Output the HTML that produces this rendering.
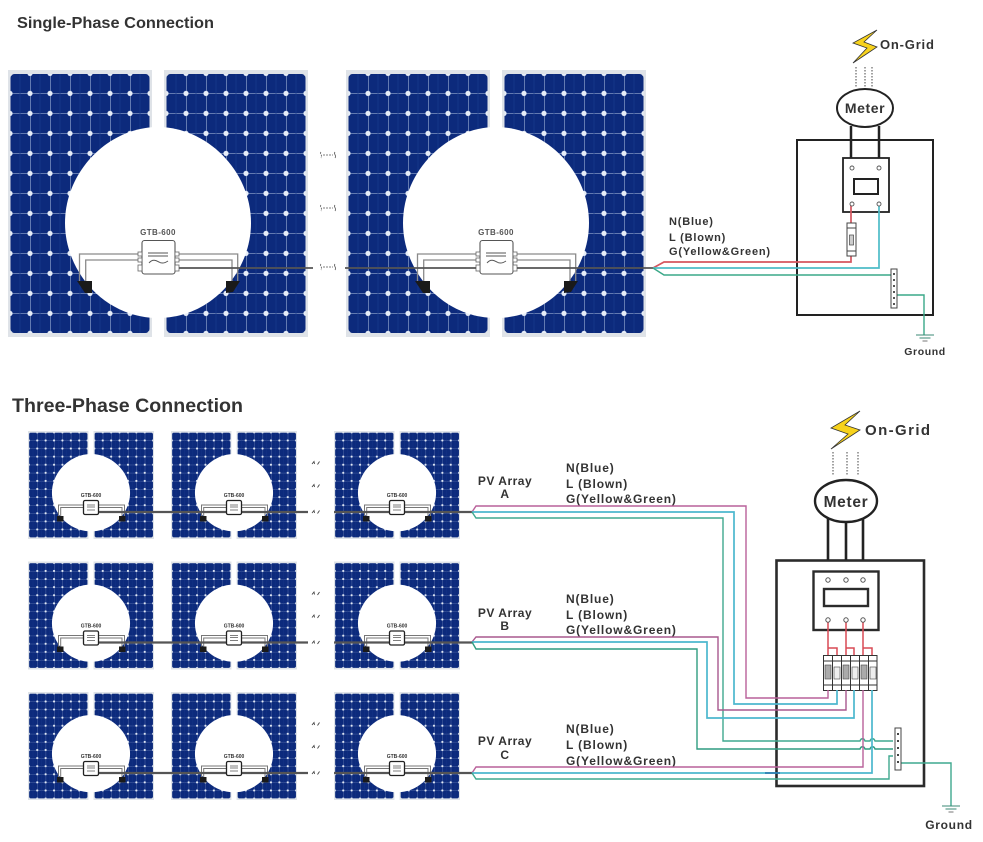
<!DOCTYPE html>
<html><head><meta charset="utf-8"><style>
html,body{margin:0;padding:0;background:#fff}
svg{display:block;filter:blur(.35px)}
text{font-family:"Liberation Sans",sans-serif;font-weight:bold;fill:#333}
</style></head><body>
<svg width="983" height="842" viewBox="0 0 983 842" xmlns="http://www.w3.org/2000/svg">
<defs>
<pattern id="cl" patternUnits="userSpaceOnUse" x="10" y="73.4" width="20" height="20">
<rect width="20" height="20" fill="#0c2a7c"/>
<path d="M0 0H20M0 0V20" stroke="#b9c9e6" stroke-width="1"/>
<path d="M10 0V20" stroke="#17398c" stroke-width=".7"/>
<circle cx="0" cy="0" r="2.6" fill="#e6edf8"/><circle cx="20" cy="0" r="2.6" fill="#e6edf8"/>
<circle cx="0" cy="20" r="2.6" fill="#e6edf8"/><circle cx="20" cy="20" r="2.6" fill="#e6edf8"/>
</pattern>
<pattern id="cr" patternUnits="userSpaceOnUse" x="6" y="73.4" width="20" height="20">
<rect width="20" height="20" fill="#0c2a7c"/>
<path d="M0 0H20M0 0V20" stroke="#b9c9e6" stroke-width="1"/>
<path d="M10 0V20" stroke="#17398c" stroke-width=".7"/>
<circle cx="0" cy="0" r="2.6" fill="#e6edf8"/><circle cx="20" cy="0" r="2.6" fill="#e6edf8"/>
<circle cx="0" cy="20" r="2.6" fill="#e6edf8"/><circle cx="20" cy="20" r="2.6" fill="#e6edf8"/>
</pattern>
<g id="pv">
<rect x="8" y="70" width="144" height="267" fill="#dfe3e8"/>
<rect x="164" y="70" width="144" height="267" fill="#dfe3e8"/>
<rect x="10.5" y="74" width="139" height="259" rx="4" fill="url(#cl)"/>
<rect x="166.5" y="74" width="139" height="259" rx="4" fill="url(#cr)"/>
<rect x="152" y="68" width="12" height="271" fill="#fff"/>
<path d="M158 127C110 127 65 170 65 223C65 272 105 318 158 318C211 318 251 272 251 223C251 170 206 127 158 127Z" fill="#fff"/>
</g>
<g id="inv">
<path d="M140 254H79.500V281M140 260H85.700V281M176 254H237.700V281M176 260H232V281" fill="none" stroke="#8a8a8a" stroke-width="1.300"/>
<path d="M77 281H92V293H85Z" fill="#1a1a1a"/>
<path d="M226 281H240L233 292L226 293Z" fill="#1a1a1a"/>
<rect x="142" y="240.500" width="33" height="33.500" rx="2.500" fill="#fff" stroke="#555" stroke-width="1.100"/>
<rect x="138" y="252" width="4" height="4" fill="#fff" stroke="#666" stroke-width=".8"/>
<rect x="138" y="258" width="4" height="4" fill="#fff" stroke="#666" stroke-width=".8"/>
<rect x="138" y="265" width="4" height="6" fill="#fff" stroke="#666" stroke-width=".8"/>
<rect x="175" y="252" width="4" height="4" fill="#fff" stroke="#666" stroke-width=".8"/>
<rect x="175" y="258" width="4" height="4" fill="#fff" stroke="#666" stroke-width=".8"/>
<rect x="175" y="265" width="4" height="6" fill="#fff" stroke="#666" stroke-width=".8"/>
<path d="M148 253H168M148 256H168" stroke="#555" stroke-width="1"/>
<path d="M149 263C153 258 157 261 159 262C162 264 165 263 168 261" fill="none" stroke="#555" stroke-width="1"/>
</g>
<g id="invs">
<path d="M56 74H30.500V85M56 76.500H32.700V85M70 74H96.500V85M70 76.500H94V85" fill="none" stroke="#777" stroke-width="1"/>
<rect x="29" y="85" width="6.500" height="5.500" fill="#1a1a1a"/>
<rect x="91" y="85" width="6.500" height="5.500" fill="#1a1a1a"/>
</g>
<g id="brk" fill="none" stroke="#555" stroke-width=".8">
<path d="M321 -3C319 -1 323 0 321 3M323 0H333" stroke-dasharray="2 1"/>
<path d="M335 -3C333 -1 337 0 335 3"/>
</g>
<g id="brs" fill="none" stroke="#444" stroke-width=".9">
<path d="M312 1L314 -1.500L314.500 1M317.500 1.500L319.500 -1.500"/>
</g>
<g id="gnd" stroke-width="1">
<path d="M-9 0H9" stroke="#3b8a76"/><path d="M-5.500 3H5.500" stroke="#3b8a76"/><path d="M-2.500 6H2.500" stroke="#777"/>
</g>
</defs>

<rect width="983" height="842" fill="#fff"/>
<text x="17" y="28" font-size="16" textLength="197" lengthAdjust="spacingAndGlyphs">Single-Phase Connection</text>
<text x="12" y="412" font-size="19.500" textLength="231" lengthAdjust="spacingAndGlyphs">Three-Phase Connection</text>

<!-- single-phase arrays -->
<use href="#pv"/>
<use href="#pv" x="338"/>
<use href="#inv"/><use href="#inv" x="338"/>
<path d="M179 268H313M345 268H476M517 268H653" stroke="#555" stroke-width="1.800" fill="none"/>
<text x="158" y="235" font-size="8" text-anchor="middle" style="fill:#555;letter-spacing:.4px">GTB-600</text>
<text x="496" y="235" font-size="8" text-anchor="middle" style="fill:#555;letter-spacing:.4px">GTB-600</text>
<use href="#brk" y="155"/><use href="#brk" y="208"/><use href="#brk" y="267"/>

<!-- single-phase panel -->
<rect x="797" y="140" width="136" height="175" fill="none" stroke="#222" stroke-width="2"/>
<path d="M851 126V158M879 126V158" stroke="#222" stroke-width="2.500"/>
<ellipse cx="865" cy="108" rx="28" ry="19" fill="#fff" stroke="#222" stroke-width="2"/>
<text x="865" y="113" font-size="14" text-anchor="middle" style="letter-spacing:.6px">Meter</text>
<path d="M856 67V87M865 67V87M872 67V87" stroke="#444" stroke-width="1" stroke-dasharray="1.500 1.500"/>
<path d="M877 30L853 43L867 48L853 63L877 47L864 42Z" fill="#f7d21c" stroke="#333" stroke-width=".8"/>
<text x="880" y="49" font-size="13" style="letter-spacing:.8px">On-Grid</text>
<rect x="843" y="158" width="46" height="54" fill="#fff" stroke="#222" stroke-width="1.800"/>
<rect x="854" y="179" width="24" height="15" fill="#fff" stroke="#222" stroke-width="2"/>
<path d="M653 268L664 262H851V256M851 223V204" fill="none" stroke="#d5565f" stroke-width="1.700"/>
<path d="M653 268H879V204" fill="none" stroke="#4dbcc8" stroke-width="1.700"/>
<path d="M653 268L664 275H891" fill="none" stroke="#3aa888" stroke-width="1.400"/>
<path d="M897 295H924V335" fill="none" stroke="#3aa888" stroke-width="1.400"/>
<g fill="#fff" stroke="#555" stroke-width=".9">
<circle cx="852" cy="168" r="2"/><circle cx="879" cy="168" r="2"/><circle cx="852" cy="204" r="2"/><circle cx="879" cy="204" r="2"/>
</g>
<rect x="847" y="223" width="9" height="33" fill="#fff" stroke="#444"/>
<rect x="849.500" y="235" width="4" height="10" fill="#ccc" stroke="#444" stroke-width=".7"/>
<path d="M847 228H856M847 251H856" stroke="#444" stroke-width="1"/>
<rect x="891" y="269" width="6" height="39" fill="#fff" stroke="#444"/>
<path d="M894 273V305" stroke="#555" stroke-width="2" stroke-dasharray="2 4"/>
<use href="#gnd" x="925" y="335"/>
<text x="925" y="355" font-size="10.500" text-anchor="middle" style="letter-spacing:.6px">Ground</text>
<text x="669" y="225" font-size="11" style="letter-spacing:.8px">N(Blue)</text>
<text x="669" y="241" font-size="11" style="letter-spacing:.8px">L (Blown)</text>
<text x="669" y="255" font-size="11" style="letter-spacing:.8px">G(Yellow&amp;Green)</text>

<!-- three-phase arrays -->
<g>
<g transform="translate(28 431) scale(.42 .4045) translate(-8 -70)"><use href="#pv"/></g>
<g transform="translate(171 431) scale(.42 .4045) translate(-8 -70)"><use href="#pv"/></g>
<g transform="translate(334 431) scale(.42 .4045) translate(-8 -70)"><use href="#pv"/></g>
<use href="#invs" x="28" y="431"/><use href="#invs" x="171" y="431"/><use href="#invs" x="334" y="431"/>
<path d="M98 512H308M334 512H472" stroke="#555" stroke-width="2.200" fill="none"/>
<rect x="83.500" y="500.500" width="15" height="14" rx="1.500" fill="#fff" stroke="#222" stroke-width="1.300"/>
<rect x="226.500" y="500.500" width="15" height="14" rx="1.500" fill="#fff" stroke="#222" stroke-width="1.300"/>
<rect x="389.500" y="500.500" width="15" height="14" rx="1.500" fill="#fff" stroke="#222" stroke-width="1.300"/>
<path d="M87 505H95M87 507H95M87 510H95M230 505H238M230 507H238M230 510H238M393 505H401M393 507H401M393 510H401" stroke="#555" stroke-width=".8"/>
<use href="#brs" y="463"/><use href="#brs" y="486"/><use href="#brs" y="512"/>
<text x="91" y="497" font-size="5" text-anchor="middle">GTB-600</text><text x="234" y="497" font-size="5" text-anchor="middle">GTB-600</text><text x="397" y="497" font-size="5" text-anchor="middle">GTB-600</text>
</g>
<g transform="translate(0 130.500)">
<g transform="translate(28 431) scale(.42 .4045) translate(-8 -70)"><use href="#pv"/></g>
<g transform="translate(171 431) scale(.42 .4045) translate(-8 -70)"><use href="#pv"/></g>
<g transform="translate(334 431) scale(.42 .4045) translate(-8 -70)"><use href="#pv"/></g>
<use href="#invs" x="28" y="431"/><use href="#invs" x="171" y="431"/><use href="#invs" x="334" y="431"/>
<path d="M98 512H308M334 512H472" stroke="#555" stroke-width="2.200" fill="none"/>
<rect x="83.500" y="500.500" width="15" height="14" rx="1.500" fill="#fff" stroke="#222" stroke-width="1.300"/>
<rect x="226.500" y="500.500" width="15" height="14" rx="1.500" fill="#fff" stroke="#222" stroke-width="1.300"/>
<rect x="389.500" y="500.500" width="15" height="14" rx="1.500" fill="#fff" stroke="#222" stroke-width="1.300"/>
<path d="M87 505H95M87 507H95M87 510H95M230 505H238M230 507H238M230 510H238M393 505H401M393 507H401M393 510H401" stroke="#555" stroke-width=".8"/>
<use href="#brs" y="463"/><use href="#brs" y="486"/><use href="#brs" y="512"/>
<text x="91" y="497" font-size="5" text-anchor="middle">GTB-600</text><text x="234" y="497" font-size="5" text-anchor="middle">GTB-600</text><text x="397" y="497" font-size="5" text-anchor="middle">GTB-600</text>
</g>
<g transform="translate(0 261)">
<g transform="translate(28 431) scale(.42 .4045) translate(-8 -70)"><use href="#pv"/></g>
<g transform="translate(171 431) scale(.42 .4045) translate(-8 -70)"><use href="#pv"/></g>
<g transform="translate(334 431) scale(.42 .4045) translate(-8 -70)"><use href="#pv"/></g>
<use href="#invs" x="28" y="431"/><use href="#invs" x="171" y="431"/><use href="#invs" x="334" y="431"/>
<path d="M98 512H308M334 512H472" stroke="#555" stroke-width="2.200" fill="none"/>
<rect x="83.500" y="500.500" width="15" height="14" rx="1.500" fill="#fff" stroke="#222" stroke-width="1.300"/>
<rect x="226.500" y="500.500" width="15" height="14" rx="1.500" fill="#fff" stroke="#222" stroke-width="1.300"/>
<rect x="389.500" y="500.500" width="15" height="14" rx="1.500" fill="#fff" stroke="#222" stroke-width="1.300"/>
<path d="M87 505H95M87 507H95M87 510H95M230 505H238M230 507H238M230 510H238M393 505H401M393 507H401M393 510H401" stroke="#555" stroke-width=".8"/>
<use href="#brs" y="463"/><use href="#brs" y="486"/><use href="#brs" y="512"/>
<text x="91" y="497" font-size="5" text-anchor="middle">GTB-600</text><text x="234" y="497" font-size="5" text-anchor="middle">GTB-600</text><text x="397" y="497" font-size="5" text-anchor="middle">GTB-600</text>
</g>

<!-- three-phase labels -->
<g font-size="12" text-anchor="middle" style="letter-spacing:.5px">
<text x="505" y="485">PV Array</text><text x="505" y="498">A</text>
<text x="505" y="617">PV Array</text><text x="505" y="630">B</text>
<text x="505" y="745">PV Array</text><text x="505" y="759">C</text>
</g>
<g font-size="12" style="letter-spacing:.85px">
<text x="566" y="472">N(Blue)</text><text x="566" y="488">L (Blown)</text><text x="566" y="503">G(Yellow&amp;Green)</text>
<text x="566" y="603">N(Blue)</text><text x="566" y="619">L (Blown)</text><text x="566" y="634">G(Yellow&amp;Green)</text>
<text x="566" y="733">N(Blue)</text><text x="566" y="749">L (Blown)</text><text x="566" y="765">G(Yellow&amp;Green)</text>
</g>

<!-- three-phase panel -->
<rect x="776.500" y="560.500" width="147.500" height="225.500" fill="none" stroke="#2b2b2b" stroke-width="2.600"/>
<path d="M828 518V560M846 522V560M863 518V560" stroke="#222" stroke-width="2.600"/>
<ellipse cx="846" cy="501" rx="31" ry="21" fill="#fff" stroke="#222" stroke-width="2.400"/>
<text x="846" y="507" font-size="15.500" text-anchor="middle" style="letter-spacing:.7px">Meter</text>
<path d="M833 452V475M847 452V475M858 452V475" stroke="#444" stroke-width="1" stroke-dasharray="1.500 1.500"/>
<path d="M860 411L831 428L848 434L831 449L860 430L845 425Z" fill="#f7d21c" stroke="#333" stroke-width=".8"/>
<text x="865" y="435" font-size="15" style="letter-spacing:1.400px">On-Grid</text>
<rect x="813.500" y="571.500" width="65" height="58.500" fill="#fff" stroke="#2b2b2b" stroke-width="2.400"/>
<rect x="824" y="589" width="44" height="17" fill="#fff" stroke="#2b2b2b" stroke-width="2.400"/>
<path d="M828 620V656M846 620V656M863 620V656M828 648H837V656M846 648H854V656M863 648H872V656" fill="none" stroke="#d94a55" stroke-width="1.500"/>
<g fill="#fff" stroke="#555" stroke-width="1">
<circle cx="828" cy="580" r="2.200"/><circle cx="846" cy="580" r="2.200"/><circle cx="863" cy="580" r="2.200"/>
<circle cx="828" cy="620" r="2.200"/><circle cx="846" cy="620" r="2.200"/><circle cx="863" cy="620" r="2.200"/>
</g>
<rect x="823.500" y="655.500" width="53.500" height="35" fill="#fff" stroke="#333"/>
<path d="M823.500 661H877M823.500 685H877" stroke="#333"/>
<path d="M832.500 655.500V690.500M841.500 655.500V690.500M850.500 655.500V690.500M859.500 655.500V690.500M868.500 655.500V690.500" stroke="#333"/>
<g fill="#aaa" stroke="#444" stroke-width=".6">
<rect x="825" y="665" width="6" height="14"/><rect x="834" y="667" width="6" height="12" fill="#eee"/><rect x="843" y="665" width="6" height="14"/><rect x="852" y="667" width="6" height="12" fill="#eee"/><rect x="861" y="665" width="6" height="14"/><rect x="870" y="667" width="6" height="12" fill="#eee"/>
</g>

<g fill="none" stroke-width="1.400">
<!-- row A -->
<path d="M472 512L476 506H746V698H828V690" stroke="#b9609a"/>
<path d="M472 512H734V704H837V690" stroke="#4cb7ce" stroke-width="1.700"/>
<path d="M472 512L476 518H723V741H860C861 738 864 738 865 741H870C871 738 874 738 875 741H893" stroke="#3fa98f"/>
<!-- row B -->
<path d="M472 642L476 637H718V710H846V690" stroke="#a9588e"/>
<path d="M472 642H707V718H854V690" stroke="#4cb7ce" stroke-width="1.700"/>
<path d="M472 642L476 649H697V749H860C861 746 864 746 865 749H870C871 746 874 746 875 749H893" stroke="#2f9c80"/>
<!-- row C -->
<path d="M472 773L476 767H863V690" stroke="#b9609a"/>
<path d="M472 773H872V690" stroke="#4cb7ce" stroke-width="1.700"/>
<path d="M472 773L476 779H889V756H893" stroke="#3fa98f"/>
<path d="M901 763H951V806" stroke="#3fa98f"/>
</g>
<path d="M765 773H780" stroke="#1f6da8" stroke-width="1.400"/>
<rect x="895" y="728" width="6" height="42" fill="#fff" stroke="#444"/>
<path d="M898 733V766" stroke="#444" stroke-width="2" stroke-dasharray="2 5"/>
<use href="#gnd" x="951" y="806"/>
<text x="949" y="829" font-size="12" text-anchor="middle" style="letter-spacing:.7px">Ground</text>
</svg>
</body></html>
